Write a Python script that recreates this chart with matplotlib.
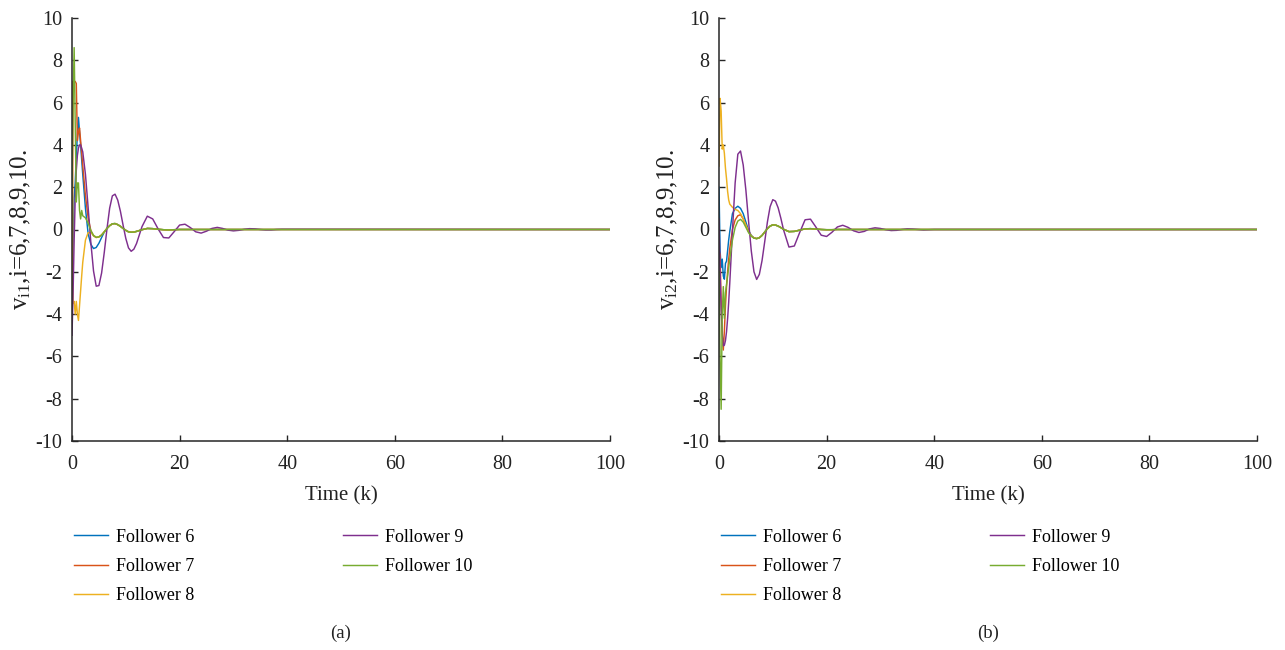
import numpy as np
import matplotlib
matplotlib.use("Agg")
import matplotlib.pyplot as plt

plt.rcParams['font.family'] = ['Liberation Serif', 'DejaVu Serif']
plt.rcParams['mathtext.fontset'] = 'custom'
plt.rcParams['mathtext.rm'] = 'Liberation Serif'
plt.rcParams['mathtext.it'] = 'Liberation Serif'
plt.rcParams['axes.unicode_minus'] = False

# ---------------------------------------------------------------
# values (dense early, coarser later)
# ---------------------------------------------------------------
t_head = [0.0, 0.2, 0.4, 0.6, 0.8, 1.0, 1.2, 1.4, 1.6, 1.8, 2.0,
          2.5, 3.0, 3.5, 4.0, 4.5, 5.0, 5.5, 6.0, 6.5]
t_tail = [7.0, 7.5, 8.0, 8.5, 9.0, 9.5, 10.0, 10.5, 11.0, 11.5, 12.0,
          13, 14, 15, 16, 17, 18, 19, 20, 21, 22, 23, 24, 25, 26, 27,
          28, 29, 30, 31, 32, 33, 34, 35, 36, 37, 38, 39, 40, 100]

labels = ["Follower 6", "Follower 7", "Follower 8", "Follower 9", "Follower 10"]
colors = ["#0072BD", "#D95319", "#EDB120", "#7E2F8E", "#77AC30"]

# panel (a): v_i1
a_f6 = [-3.0, -1.0, 1.5, 2.2, 3.5, 4.5, 5.3, 4.6, 4.0, 3.3, 2.6,
        1.0, -0.2, -0.7, -0.9, -0.85, -0.65, -0.38, -0.12, 0.05]
a_f7 = [-4.0, 7.0, 7.0, 7.0, 6.9, 4.2, 4.6, 4.8, 4.2, 3.6, 3.0,
        1.6, 0.55, -0.05, -0.3, -0.38, -0.35, -0.26, -0.11, 0.05]
a_f8 = [7.0, -3.5, -3.4, -4.0, -3.4, -4.0, -4.3, -3.6, -2.9, -2.2, -1.55,
        -0.5, -0.15, -0.15, -0.28, -0.37, -0.35, -0.26, -0.11, 0.05]
a_f9 = [-5.0, -3.0, -0.5, 1.5, 2.8, 3.5, 3.85, 4.0, 4.0, 3.85, 3.67,
        2.6, 1.04, -0.61, -1.96, -2.68, -2.65, -2.06, -1.08, 0.03]
a_f10 = [2.0, 6.0, 8.6, 5.0, 1.3, 2.2, 2.2, 0.9, 0.5, 0.9, 0.65,
         0.55, 0.3, -0.05, -0.28, -0.37, -0.35, -0.26, -0.11, 0.05]
a_tail = [0.18, 0.27, 0.28, 0.23, 0.15, 0.05, -0.04, -0.11, -0.13, -0.12, -0.09,
          -0.01, 0.05, 0.04, 0.01, -0.01, -0.02, -0.01, 0.0, 0.0, 0.0, 0.0, 0.0,
          0.0, 0.0, 0.0, 0.0, 0.0, 0.0, 0.0, 0.0, 0.0, 0.0, 0.0, 0.0, 0.0, 0.0,
          0.0, 0.0, 0.0]
a_f9_tail = [1.01, 1.59, 1.67, 1.39, 0.86, 0.2, -0.42, -0.87, -1.03, -0.93, -0.66,
             0.13, 0.63, 0.5, 0.03, -0.38, -0.4, -0.1, 0.21, 0.25, 0.09, -0.11,
             -0.17, -0.08, 0.05, 0.1, 0.05, -0.03, -0.065, -0.04, 0.01, 0.04, 0.03,
             0.0, -0.02, -0.02, 0.0, 0.01, 0.01, 0.0]

# panel (b): v_i2
b_f6 = [2.0, -1.0, -1.8, -1.4, -2.2, -2.35, -1.6, -1.5, -1.0, -0.5, -0.1,
        0.75, 1.0, 1.1, 1.0, 0.75, 0.35, -0.05, -0.28, -0.4]
b_f7 = [-1.0, -1.2, -3.5, -5.0, -5.7, -4.8, -3.6, -2.7, -2.0, -1.4, -0.9,
        0.0, 0.45, 0.65, 0.7, 0.5, 0.2, -0.1, -0.3, -0.4]
b_f8 = [3.0, 6.2, 5.6, 3.8, 4.0, 3.6, 2.9, 2.4, 1.8, 1.4, 1.2,
        1.05, 0.95, 0.9, 0.75, 0.5, 0.2, -0.1, -0.3, -0.4]
b_f9 = [0.5, -2.0, -3.8, -4.9, -5.5, -5.47, -5.25, -4.83, -4.21, -3.44, -2.54,
        -0.06, 2.2, 3.56, 3.71, 3.05, 1.85, 0.38, -1.01, -2.0]
b_f10 = [-2.0, -6.0, -8.5, -4.0, -2.7, -4.2, -3.0, -2.6, -2.2, -1.8, -1.4,
         -0.5, 0.1, 0.4, 0.48, 0.35, 0.1, -0.15, -0.32, -0.41]
b_tail = [-0.43, -0.39, -0.28, -0.12, 0.04, 0.16, 0.22, 0.21, 0.16, 0.09, 0.01,
          -0.1, -0.09, -0.03, 0.03, 0.04, 0.02, 0.0, -0.01, -0.01, 0.0, 0.0, 0.0,
          0.0, 0.0, 0.0, 0.0, 0.0, 0.0, 0.0, 0.0, 0.0, 0.0, 0.0, 0.0, 0.0, 0.0,
          0.0, 0.0, 0.0]
b_f9_tail = [-2.36, -2.12, -1.47, -0.57, 0.36, 1.08, 1.41, 1.34, 1.02, 0.53, -0.02,
             -0.83, -0.78, -0.14, 0.46, 0.49, 0.12, -0.27, -0.33, -0.13, 0.12, 0.2,
             0.1, -0.06, -0.14, -0.09, 0.03, 0.08, 0.05, -0.01, -0.05, -0.04, 0.0,
             0.03, 0.02, 0.0, -0.02, -0.01, 0.0, 0.0]

t = np.array(t_head + t_tail)
panels = [
    ([a_f6 + a_tail, a_f7 + a_tail, a_f8 + a_tail, a_f9 + a_f9_tail, a_f10 + a_tail],
     r"v$_{\mathrm{i1}}$,i=6,7,8,9,10.", "(a)"),
    ([b_f6 + b_tail, b_f7 + b_tail, b_f8 + b_tail, b_f9 + b_f9_tail, b_f10 + b_tail],
     r"v$_{\mathrm{i2}}$,i=6,7,8,9,10.", "(b)"),
]

fig = plt.figure(figsize=(12.85, 6.5), dpi=100)
lefts = [72 / 1285, 719 / 1285]
for left, (series, ylab, tag) in zip(lefts, panels):
    ax = fig.add_axes([left, 209 / 650, 538 / 1285, 423 / 650])
    for y, c, lab in zip(series, colors, labels):
        ax.plot(t, y, color=c, lw=1.05, label=lab)
    ax.set_xlim(0, 100)
    ax.set_ylim(-10, 10)
    ax.set_xticks(np.arange(0, 101, 20))
    ax.set_yticks(np.arange(-10, 11, 2))
    ax.spines['top'].set_visible(False)
    ax.spines['right'].set_visible(False)
    for s in ['left', 'bottom']:
        ax.spines[s].set_linewidth(1.1)
        ax.spines[s].set_color('#262626')
    ax.tick_params(direction='in', length=4, width=1.0, labelsize=14.5,
                   color='#262626', labelcolor='#222222')
    ax.tick_params(axis='x', pad=10)
    ax.tick_params(axis='y', pad=7)
    ax.set_xlabel("Time (k)", fontsize=15, labelpad=9, color='#222222')
    ax.set_ylabel(ylab, fontsize=18, labelpad=2, color='#222222')
    ax.legend(loc='upper left', bbox_to_anchor=(-0.01, -0.19), ncol=2,
              frameon=False, fontsize=13, handlelength=1.9, handletextpad=0.45,
              labelspacing=0.68, columnspacing=8.2, borderaxespad=0)
    ax.text(0.5, -0.455, tag, transform=ax.transAxes, ha='center', va='center',
            fontsize=13.5, color='#222222')

fig.savefig("out.png", dpi=100)
